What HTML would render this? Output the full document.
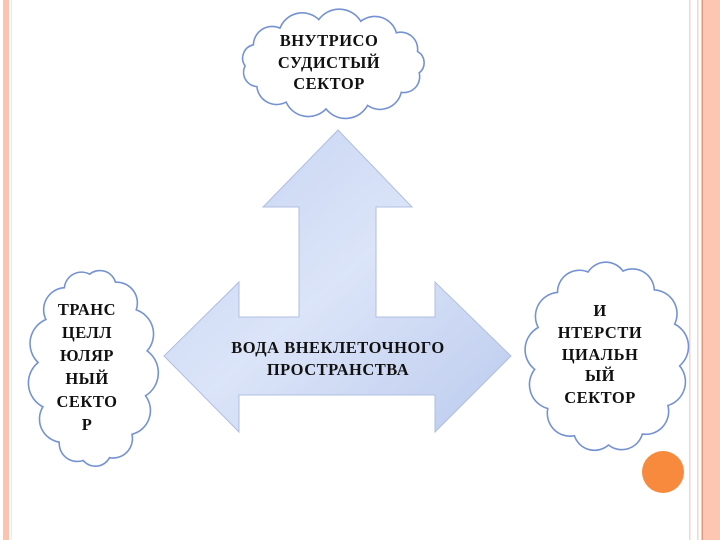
<!DOCTYPE html>
<html><head><meta charset="utf-8"><style>
html,body{margin:0;padding:0;background:#fff;}
#w{position:relative;width:720px;height:540px;overflow:hidden;background:#fff;}
svg{position:absolute;left:0;top:0;}
.t{font-family:"Liberation Serif",serif;font-weight:bold;font-size:16.5px;fill:#111;text-anchor:middle;letter-spacing:0.5px;}
</style></head><body><div id="w">
<svg width="720" height="540" viewBox="0 0 720 540">
<defs>
<linearGradient id="g" x1="0" y1="0" x2="1" y2="1">
<stop offset="0" stop-color="#c3d1f1"/><stop offset="0.5" stop-color="#dbe4f8"/><stop offset="1" stop-color="#bccbee"/>
</linearGradient>
</defs>
<rect x="3" y="0" width="6" height="540" fill="#fcc3ae"/>
<rect x="11" y="0" width="1" height="540" fill="#f6e8e0"/>
<rect x="689" y="0" width="1.5" height="540" fill="#eed7cc"/>
<rect x="697" y="0" width="1.5" height="540" fill="#eed7cc"/>
<rect x="701" y="0" width="19" height="540" fill="#fdc6b2"/>
<rect x="702" y="0" width="1" height="540" fill="#e89878"/>
<path d="M338,130 L412,207 L376,207 L376,317 L435,317 L435,282 L511,356 L435,432 L435,395 L239,395 L239,432 L164,356 L239,282 L239,317 L299,317 L299,207 L263,207 Z" fill="url(#g)" stroke="#b0bfe0" stroke-width="1"/>
<g id="clouds" fill="#fff" stroke="#7592d2" stroke-width="1.6"></g>
<circle cx="663" cy="472" r="21" fill="#f78a3d"/>
<text class="t" x="329" y="46">ВНУТРИСО</text>
<text class="t" x="329" y="68">СУДИСТЫЙ</text>
<text class="t" x="329" y="89">СЕКТОР</text>
<text class="t" x="87" y="315">ТРАНС</text>
<text class="t" x="87" y="338">ЦЕЛЛ</text>
<text class="t" x="87" y="361">ЮЛЯР</text>
<text class="t" x="87" y="384">НЫЙ</text>
<text class="t" x="87" y="407">СЕКТО</text>
<text class="t" x="87" y="430">Р</text>
<text class="t" x="600" y="316">И</text>
<text class="t" x="600" y="338">НТЕРСТИ</text>
<text class="t" x="600" y="360">ЦИАЛЬН</text>
<text class="t" x="600" y="381">ЫЙ</text>
<text class="t" x="600" y="403">СЕКТОР</text>
<text class="t" x="338" y="353">ВОДА  ВНЕКЛЕТОЧНОГО</text>
<text class="t" x="338" y="375">ПРОСТРАНСТВА</text>
</svg>
<script>
(function(){
var g=document.getElementById('clouds');
function cloud(cx,cy,rx,ry,n,ph){
 var pts=[];for(var i=0;i<n;i++){var a=ph+i*2*Math.PI/n;pts.push([cx+rx*Math.cos(a),cy+ry*Math.sin(a)]);}
 var d='M'+pts[0][0].toFixed(1)+','+pts[0][1].toFixed(1);
 for(var i=1;i<=n;i++){var p=pts[i%n],q=pts[i-1];var c=Math.hypot(p[0]-q[0],p[1]-q[1]);var r=c*0.6;
  d+=' A'+r.toFixed(1)+','+r.toFixed(1)+' 0 0 1 '+p[0].toFixed(1)+','+p[1].toFixed(1);}
 d+='Z';var e=document.createElementNS('http://www.w3.org/2000/svg','path');e.setAttribute('d',d);g.appendChild(e);
}
cloud(333,64,88,45,13,0.2);
cloud(93,368,55,94,13,0.3);
cloud(607,357,73,88,13,0.1);
})();
</script>
</div></body></html>
